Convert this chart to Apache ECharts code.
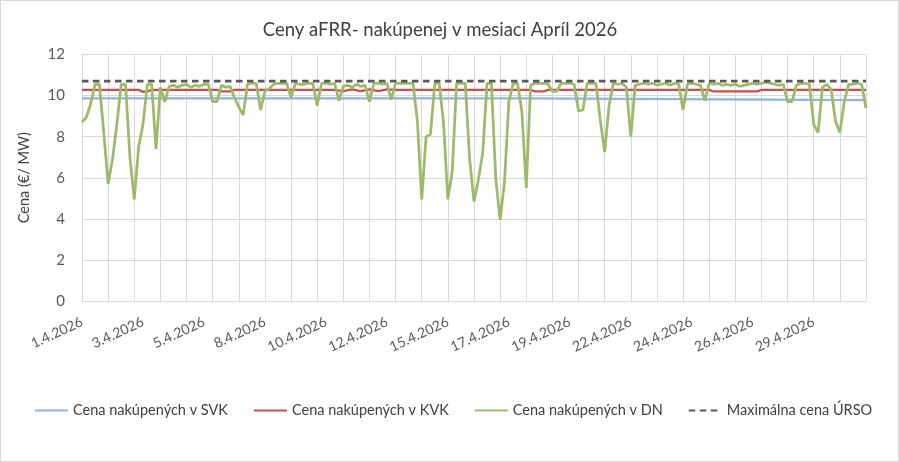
<!DOCTYPE html>
<html>
<head>
<meta charset="utf-8">
<script src="https://cdn.jsdelivr.net/npm/echarts@6/dist/echarts.min.js"></script>
<style>
  html, body { margin: 0; padding: 0; background: #fff; }
  #echarts_main { width: 897px; height: 460px; border: 1px solid #d9d9d9; }
</style>
</head>
<body>
<div id="echarts_main"></div>
<script>
// 4-hodinove bloky, 1.4.2026 00:00 az 1.5.2026 00:00
var categories = [];
for (var i = 0; i <= 180; i++) {
    var day = Math.floor(i / 6) + 1;
    categories.push(day <= 30 ? day + '.4.2026' : '1.5.2026');
}

var seriesNames = ['Cena nakúpených v SVK', 'Cena nakúpených v KVK', 'Cena nakúpených v DN', 'Maximálna cena ÚRSO'];
var seriesColors = ['#8db4e2', '#d04c4a', '#9cbb6a', '#595959'];

// [index bloku, cena]
var svkPrices = [[0, 9.86], [102, 9.86], [102, 9.78], [180, 9.78]];

var kvkPrices = [[0, 10.28], [13, 10.28], [14, 10.18], [15, 10.2], [16, 10.28], [31, 10.28], [32, 10.2],
    [34, 10.2], [35, 10.28], [58, 10.28], [60, 10.22], [62, 10.3], [64, 10.22], [66, 10.3], [68, 10.22],
    [70, 10.3], [72, 10.28], [103, 10.28], [104, 10.2], [106, 10.2], [107, 10.28], [144, 10.28],
    [145, 10.2], [155, 10.2], [156, 10.28], [180, 10.28]];

var dnPrices = [
    8.7, 8.95, 9.6, 10.55, 10.55, 8.2, 5.7, 6.9, 8.6, 10.55,
    10.55, 7.0, 4.95, 7.5, 8.6, 10.55, 10.55, 7.4, 10.4, 9.7,
    10.45, 10.5, 10.4, 10.5, 10.55, 10.4, 10.5, 10.45, 10.55, 10.55,
    9.7, 9.7, 10.5, 10.4, 10.45, 9.9, 9.45, 9.05, 10.55, 10.6,
    10.6, 9.3, 10.2, 10.35, 10.55, 10.6, 10.6, 10.6, 9.9, 10.6,
    10.55, 10.55, 10.6, 10.6, 9.5, 10.6, 10.6, 10.55, 10.6, 9.75,
    10.45, 10.5, 10.4, 10.55, 10.45, 10.5, 9.7, 10.6, 10.6, 10.55,
    10.6, 9.8, 10.6, 10.6, 10.6, 10.6, 10.6, 8.75, 4.95, 8.0,
    8.1, 10.6, 10.6, 8.7, 4.95, 6.3, 10.6, 10.6, 10.6, 6.9,
    4.85, 5.9, 7.2, 10.6, 10.6, 5.95, 3.95, 5.8, 9.7, 10.6,
    10.6, 9.2, 5.5, 10.5, 10.6, 10.6, 10.6, 10.55, 10.2, 10.2,
    10.6, 10.6, 10.6, 10.55, 9.25, 9.3, 10.6, 10.6, 10.6, 8.8,
    7.25, 9.5, 10.6, 10.55, 10.6, 10.4, 8.0, 10.5, 10.55, 10.6,
    10.55, 10.6, 10.5, 10.55, 10.6, 10.5, 10.6, 10.55, 9.3, 10.55,
    10.6, 10.55, 10.5, 9.75, 10.6, 10.55, 10.6, 10.5, 10.55, 10.5,
    10.55, 10.45, 10.5, 10.55, 10.6, 10.55, 10.6, 10.65, 10.6, 10.55,
    10.5, 10.55, 9.7, 9.7, 10.5, 10.6, 10.6, 10.55, 8.6, 8.2,
    10.4, 10.55, 10.3, 8.75, 8.2, 9.7, 10.55, 10.55, 10.6, 10.55,
    9.4
];

var ursoPrices = [[0, 10.7], [180, 10.7]];

var yTicks = { min: 0, max: 12, interval: 2 };

var font = 'Lato, "Open Sans", sans-serif';

var myChart = echarts.init(document.getElementById('echarts_main'));

var option = {
    animation: false,
    textStyle: { fontFamily: font },
    title: {
        text: 'Ceny aFRR- nakúpenej v mesiaci Apríl 2026',
        left: 434,
        top: 15,
        textAlign: 'center',
        textStyle: { fontFamily: font, fontSize: 18.5, fontWeight: 'normal', color: '#404040' }
    },
    legend: {
        data: seriesNames,
        bottom: 38,
        left: 28,
        itemWidth: 33,
        itemHeight: 3,
        itemGap: 25,
        itemStyle: { opacity: 0 },   // len ciara, bez kruzku
        textStyle: { fontFamily: font, fontSize: 14.5, color: '#404040' }
    },
    grid: {
        left: 81,
        right: 32,
        top: 53.5,
        bottom: 160,
        containLabel: false
    },
    xAxis: {
        type: 'category',
        data: categories,
        boundaryGap: false,
        axisTick: { show: false },
        axisLine: { show: true, lineStyle: { color: '#d9d9d9' } },
        axisLabel: {
            interval: 13,
            rotate: 25,
            margin: 20,
            fontSize: 14,
            color: '#595959',
            fontFamily: font
        },
        splitLine: {
            show: true,
            interval: 5,
            lineStyle: { color: '#d9d9d9' }
        }
    },
    yAxis: {
        type: 'value',
        min: yTicks.min,
        max: yTicks.max,
        interval: yTicks.interval,
        name: 'Cena (€/ MW)',
        nameLocation: 'middle',
        nameGap: 50,
        nameTextStyle: { fontFamily: font, fontSize: 14.5, color: '#404040' },
        axisLine: { show: true, lineStyle: { color: '#d9d9d9' } },
        axisTick: { show: false },
        axisLabel: { fontSize: 15, color: '#595959', margin: 17, fontFamily: font },
        splitLine: { lineStyle: { color: '#d9d9d9' } }
    },
    series: [
        {
            name: seriesNames[0],
            type: 'line',
            data: svkPrices,
            symbol: 'none',
            silent: true,
            lineStyle: { color: seriesColors[0], width: 2.25 },
            itemStyle: { color: seriesColors[0] }
        },
        {
            name: seriesNames[1],
            type: 'line',
            data: kvkPrices,
            symbol: 'none',
            silent: true,
            lineStyle: { color: seriesColors[1], width: 2.25 },
            itemStyle: { color: seriesColors[1] }
        },
        {
            name: seriesNames[2],
            type: 'line',
            data: dnPrices,
            symbol: 'none',
            silent: true,
            lineStyle: { color: seriesColors[2], width: 2.75 },
            itemStyle: { color: seriesColors[2] }
        },
        {
            name: seriesNames[3],
            type: 'line',
            data: ursoPrices,
            symbol: 'none',
            silent: true,
            lineStyle: { color: seriesColors[3], width: 2.75, type: [6.5, 4.5] },
            itemStyle: { color: seriesColors[3] }
        }
    ]
};

myChart.setOption(option);
</script>
</body>
</html>
